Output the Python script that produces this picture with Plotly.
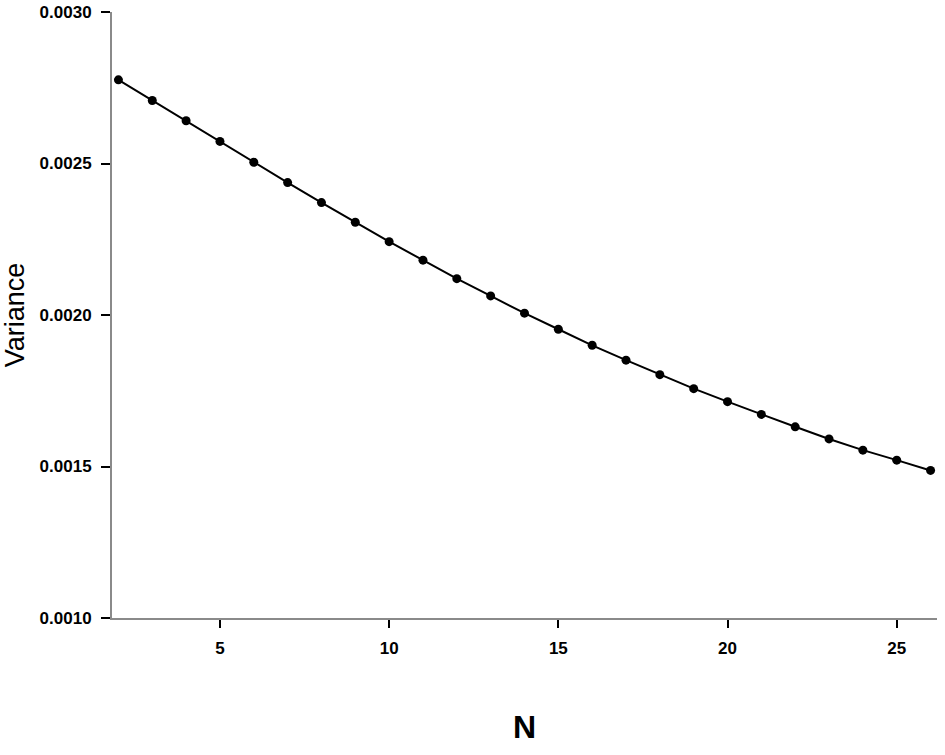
import plotly.graph_objects as go

n_values = list(range(2, 27))
variance = [0.002776, 0.002708, 0.002641, 0.002573, 0.002504, 0.002437, 0.002371,
            0.002306, 0.002242, 0.002181, 0.002120, 0.002063, 0.002006, 0.001953,
            0.001900, 0.001851, 0.001803, 0.001757, 0.001714, 0.001672, 0.001631,
            0.001591, 0.001554, 0.001521, 0.001487]
x_ticks = [5, 10, 15, 20, 25]
y_ticks = [0.0010, 0.0015, 0.0020, 0.0025, 0.0030]
y_tick_text = ["0.0010", "0.0015", "0.0020", "0.0025", "0.0030"]

fig = go.Figure()
fig.add_trace(go.Scatter(
    x=n_values, y=variance, mode="lines+markers",
    line=dict(color="black", width=2),
    marker=dict(color="black", size=9),
    showlegend=False,
    cliponaxis=False,
))

FONT = "Liberation Sans, Arial, sans-serif"
fig.update_layout(
    width=945, height=755,
    margin=dict(l=112, r=8, t=12, b=137),
    plot_bgcolor="white", paper_bgcolor="white",
    font=dict(family=FONT, color="black"),
)
fig.update_xaxes(
    range=[1.81, 26.19], tickmode="array", tickvals=x_ticks,
    showgrid=False, zeroline=False, automargin=False,
    showline=True, linecolor="#8a8a8a", linewidth=2,
    ticks="outside", ticklen=8, tickwidth=2, tickcolor="black",
    ticklabelstandoff=6, ticklabeloverflow="allow",
    tickfont=dict(family=FONT, size=17, weight="bold", color="black"),
    title=dict(text="N", font=dict(family=FONT, size=32, weight="bold", color="black"), standoff=58),
)
fig.update_yaxes(
    range=[0.0010, 0.0030], tickmode="array", tickvals=y_ticks, ticktext=y_tick_text,
    showgrid=False, zeroline=False, automargin=False,
    showline=True, linecolor="#8a8a8a", linewidth=2,
    ticks="outside", ticklen=9, tickwidth=2, tickcolor="black",
    ticklabelstandoff=6, ticklabeloverflow="allow",
    tickfont=dict(family=FONT, size=17, weight="bold", color="black"),
    title=dict(text="Variance", font=dict(family=FONT, size=27, color="black"), standoff=8),
)

fig.write_html("out.html", config={"displayModeBar": False},
               post_script="document.body.style.margin='0';")
